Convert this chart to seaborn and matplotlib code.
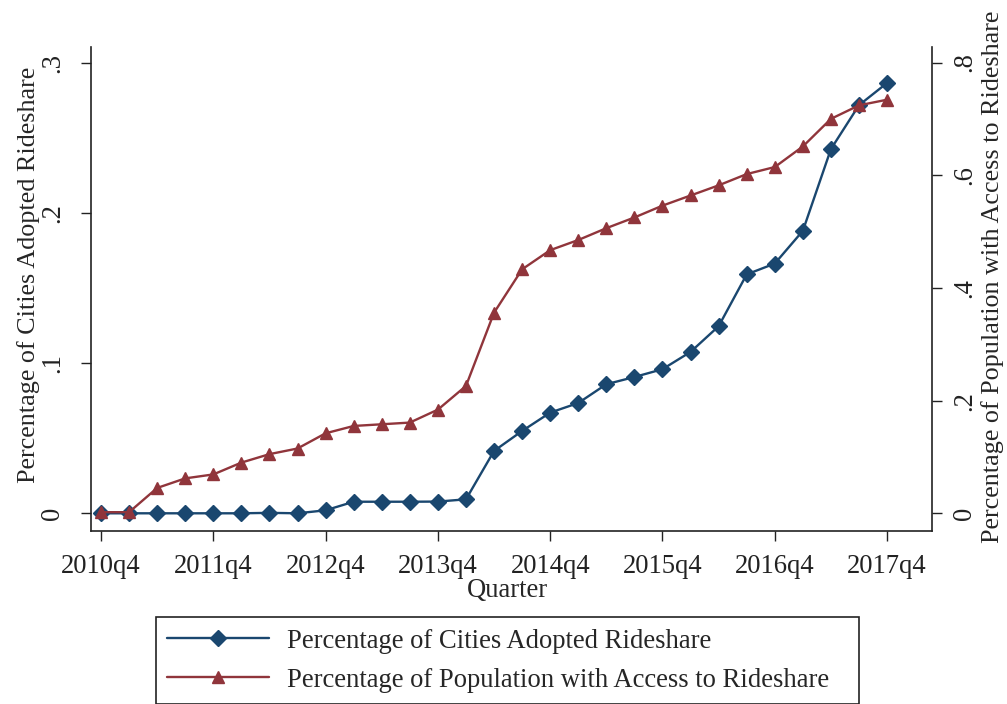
import matplotlib
matplotlib.use("Agg")
import matplotlib.pyplot as plt
import seaborn as sns
import numpy as np
import pandas as pd

# ---- data ----
quarters = ["2010q4", "2011q1", "2011q2", "2011q3", "2011q4", "2012q1", "2012q2", "2012q3",
            "2012q4", "2013q1", "2013q2", "2013q3", "2013q4", "2014q1", "2014q2", "2014q3",
            "2014q4", "2015q1", "2015q2", "2015q3", "2015q4", "2016q1", "2016q2", "2016q3",
            "2016q4", "2017q1", "2017q2", "2017q3", "2017q4"]
cities = [0.0, 0.0, 0.0, 0.0, 0.0, 0.0, 0.0003, 0.0, 0.002, 0.0077, 0.0077, 0.0077, 0.0078,
          0.0093, 0.0415, 0.0548, 0.067, 0.0734, 0.0859, 0.0907, 0.0959, 0.1074, 0.1245,
          0.159, 0.1662, 0.188, 0.2424, 0.2716, 0.2864]
population = [0.002, 0.002, 0.045, 0.062, 0.069, 0.090, 0.105, 0.115, 0.142, 0.155, 0.158,
              0.161, 0.184, 0.226, 0.356, 0.433, 0.467, 0.485, 0.506, 0.525, 0.546, 0.564,
              0.582, 0.602, 0.6145, 0.651, 0.700, 0.724, 0.734]
xtick_labels = ["2010q4", "2011q4", "2012q4", "2013q4", "2014q4", "2015q4", "2016q4", "2017q4"]
left_ticks = [0, 0.1, 0.2, 0.3]
left_ticklabels = ["0", ".1", ".2", ".3"]
right_ticks = [0, 0.2, 0.4, 0.6, 0.8]
right_ticklabels = ["0", ".2", ".4", ".6", ".8"]

label_cities = "Percentage of Cities Adopted Rideshare"
label_pop = "Percentage of Population with Access to Rideshare"

df = pd.DataFrame({"q": np.arange(len(quarters)), "quarter": quarters,
                   "cities": cities, "population": population})

sns.set_style("ticks")
plt.rcParams["font.family"] = ["Liberation Serif", "DejaVu Serif"]
plt.rcParams["axes.edgecolor"] = "#222222"
plt.rcParams["xtick.color"] = "#222222"
plt.rcParams["ytick.color"] = "#222222"

NAVY = "#1a476f"
MAROON = "#90353b"
FS = 19.2
FS_Y = 18.8

W, H = 1007, 704
fig = plt.figure(figsize=(W / 100, H / 100), dpi=100)
fig.patch.set_facecolor("white")
L, R, T, B = 91.3, 932.0, 46.5, 531.0
ax = fig.add_axes([L / W, 1 - B / H, (R - L) / W, (B - T) / H])
ax2 = ax.twinx()

sns.lineplot(data=df, x="q", y="cities", ax=ax, color=NAVY, marker="D", markersize=8.3,
             markeredgecolor=NAVY, markeredgewidth=1, linewidth=1.7, label=label_cities,
             legend=False)
sns.lineplot(data=df, x="q", y="population", ax=ax2, color=MAROON, marker="^", markersize=9,
             markeredgecolor=MAROON, markeredgewidth=1, linewidth=1.7, label=label_pop,
             legend=False)

ax.set_xlim(-0.346, 29.60)
ax.set_ylim(-0.01178, 0.31065)
ax2.set_ylim(-0.0314, 0.8284)

xt = [quarters.index(t) for t in xtick_labels]
ax.set_xticks(xt)
ax.set_xticklabels(xtick_labels, fontsize=FS)
ax.set_yticks(left_ticks)
ax.set_yticklabels(left_ticklabels, fontsize=FS, rotation=90, va="center")
ax2.set_yticks(right_ticks)
ax2.set_yticklabels(right_ticklabels, fontsize=FS, rotation=90, va="center")

for a in (ax, ax2):
    a.spines["top"].set_visible(False)
    for s in a.spines.values():
        s.set_linewidth(1.2)
ax.spines["right"].set_visible(False)
ax2.spines["left"].set_visible(False)
ax2.spines["bottom"].set_visible(False)

ax.tick_params(axis="x", direction="out", length=7.2, width=1.0, pad=9.5)
ax.tick_params(axis="y", direction="out", length=7.2, width=1.0, pad=11.5)
ax2.tick_params(axis="y", direction="out", length=7.2, width=1.0, pad=7.5)

ax.set_xlabel("Quarter", fontsize=FS)
ax.xaxis.set_label_coords((507 - L) / (R - L), (B - 578) / (B - T))
ax.set_ylabel(label_cities, fontsize=FS_Y)
ax.yaxis.set_label_coords((40 - L) / (R - L), (B - 275) / (B - T))
ax2.set_ylabel(label_pop, fontsize=FS_Y)
ax2.yaxis.set_label_coords((981 - L) / (R - L), (B - 277) / (B - T))

ax.grid(False)
ax2.grid(False)

h1 = ax.get_lines()[0]
h2 = ax2.get_lines()[0]
leg = ax2.legend([h1, h2], [label_cities, label_pop], loc="upper left",
                 bbox_to_anchor=(155.7 / W, 1 - 617 / H, (859 - 155.7) / W, 0.0),
                 bbox_transform=fig.transFigure, mode="expand", borderaxespad=0,
                 frameon=True, fancybox=False, edgecolor="#222222", framealpha=1,
                 fontsize=FS, handlelength=3.8, handletextpad=0.68, labelspacing=0.52,
                 borderpad=0.44, numpoints=1)
leg.get_frame().set_linewidth(1.2)

fig.savefig("out.png", dpi=100, facecolor="white")
